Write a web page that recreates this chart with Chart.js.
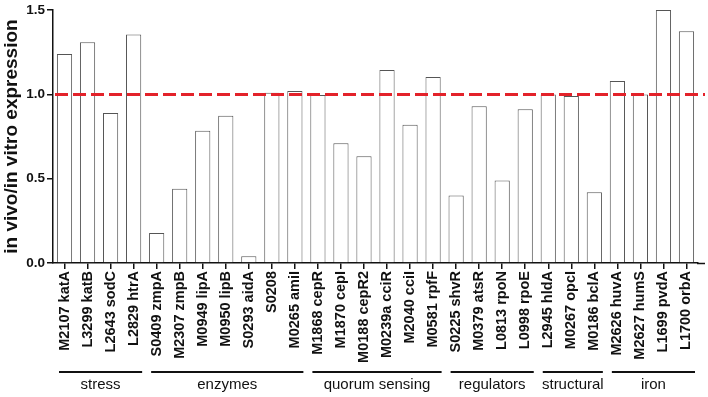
<!DOCTYPE html>
<html>
<head>
<meta charset="utf-8">
<script src="https://cdn.jsdelivr.net/npm/chart.js@4"></script>
<style>
  body { margin: 0; background: #fff; }
  #wrap { width: 708px; height: 397px; }
</style>
</head>
<body>
<div id="wrap"><canvas id="barChart" width="708" height="397"></canvas></div>
<script>
const genes = [
    'M2107 katA', 'L3299 katB', 'L2643 sodC', 'L2829 htrA',
    'S0409 zmpA', 'M2307 zmpB', 'M0949 lipA', 'M0950 lipB', 'S0293 aidA', 'S0208', 'M0265 amiI',
    'M1868 cepR', 'M1870 cepI', 'M0188 cepR2', 'M0239a cciR', 'M2040 cciI', 'M0581 rpfF',
    'S0225 shvR', 'M0379 atsR', 'L0813 rpoN', 'L0998 rpoE',
    'L2945 hldA', 'M0267 opcI', 'M0186 bclA',
    'M2626 huvA', 'M2627 humS', 'L1699 pvdA', 'L1700 orbA'
];
const expression = [
    1.24, 1.31, 0.89, 1.355,
    0.178, 0.44, 0.785, 0.873, 0.04, 1.01, 1.02,
    0.997, 0.71, 0.633, 1.145, 0.82, 1.103,
    0.40, 0.93, 0.49, 0.912,
    1.0, 0.99, 0.419,
    1.08, 1.0, 1.5, 1.375
];
const groupNames = ['stress', 'enzymes', 'quorum sensing', 'regulators', 'structural', 'iron'];
const groupSizes = [4, 7, 6, 4, 3, 4];
const yTicks = [0, 0.5, 1.0, 1.5];
const referenceLevel = 1.0;

const fontFamily = '"Liberation Sans", Arial, sans-serif';

const extrasPlugin = {
    id: 'extras',
    afterDatasetsDraw(chart) {
        const ctx = chart.ctx;
        const area = chart.chartArea;
        const y = chart.scales.y.getPixelForValue(referenceLevel);
        ctx.save();
        ctx.strokeStyle = '#e3222a';
        ctx.lineWidth = 3;
        ctx.setLineDash([13, 5]);
        ctx.beginPath();
        ctx.moveTo(area.left + 2, y);
        ctx.lineTo(area.right + 7, y);
        ctx.stroke();
        ctx.restore();
    },
    afterDraw(chart) {
        const ctx = chart.ctx;
        const area = chart.chartArea;
        const x = chart.scales.x;
        const step = x.getPixelForValue(1) - x.getPixelForValue(0);
        ctx.save();
        // x axis line runs a little past the last bar
        ctx.strokeStyle = '#111';
        ctx.lineWidth = 1.5;
        ctx.beginPath();
        ctx.moveTo(area.right - 1, area.bottom + 0.5);
        ctx.lineTo(area.right + 7, area.bottom + 0.5);
        ctx.stroke();
        // group brackets under the gene labels
        let start = 0;
        ctx.font = '15px ' + fontFamily;
        ctx.fillStyle = '#111';
        ctx.textAlign = 'center';
        ctx.textBaseline = 'middle';
        groupNames.forEach((name, i) => {
            const end = start + groupSizes[i] - 1;
            const left = x.getPixelForValue(start) - step / 2 + 6;
            const right = x.getPixelForValue(end) + step / 2 - 3;
            ctx.lineWidth = 2;
            ctx.beginPath();
            ctx.moveTo(left, 372);
            ctx.lineTo(right, 372);
            ctx.stroke();
            ctx.fillText(name, (left + right) / 2, 385);
            start = end + 1;
        });
        ctx.restore();
    }
};

const barChartConfig = {
    type: 'bar',
    data: {
        labels: genes,
        datasets: [{
            data: expression,
            backgroundColor: '#ffffff',
            borderColor: '#555555',
            borderWidth: 1,
            barPercentage: 0.66,
            categoryPercentage: 1.0
        }]
    },
    options: {
        responsive: false,
        animation: false,
        layout: {
            padding: {
                top: 9,
                bottom: 0,
                left: 0,
                right: 10
            }
        },
        plugins: {
            legend: {
                display: false
            },
            tooltip: {
                enabled: false
            }
        },
        scales: {
            x: {
                afterFit(scale) { scale.height = 134; },
                border: { color: '#111', width: 1.5 },
                grid: {
                    offset: false,
                    drawOnChartArea: false,
                    color: '#111',
                    lineWidth: 1.5,
                    tickLength: 6
                },
                ticks: {
                    autoSkip: false,
                    maxRotation: 90,
                    minRotation: 90,
                    padding: 2,
                    color: '#111',
                    font: { family: fontFamily, size: 14.5, weight: 'bold' }
                }
            },
            y: {
                min: 0,
                max: 1.5,
                afterFit(scale) { scale.width = 53; },
                afterBuildTicks(scale) {
                    scale.ticks = yTicks.map(v => ({ value: v }));
                },
                border: { color: '#111', width: 1.5 },
                grid: {
                    drawOnChartArea: false,
                    color: '#111',
                    lineWidth: 1.5,
                    tickLength: 6
                },
                ticks: {
                    padding: 2,
                    color: '#111',
                    font: { family: fontFamily, size: 13.5, weight: 'bold' },
                    callback: v => v.toFixed(1)
                },
                title: {
                    display: true,
                    text: 'in vivo/in vitro expression',
                    color: '#111',
                    padding: { top: 0, bottom: 0 },
                    font: { family: fontFamily, size: 19, weight: 'bold' }
                }
            }
        }
    },
    plugins: [extrasPlugin]
};

const barChart = new Chart(document.getElementById('barChart'), barChartConfig);
</script>
</body>
</html>
